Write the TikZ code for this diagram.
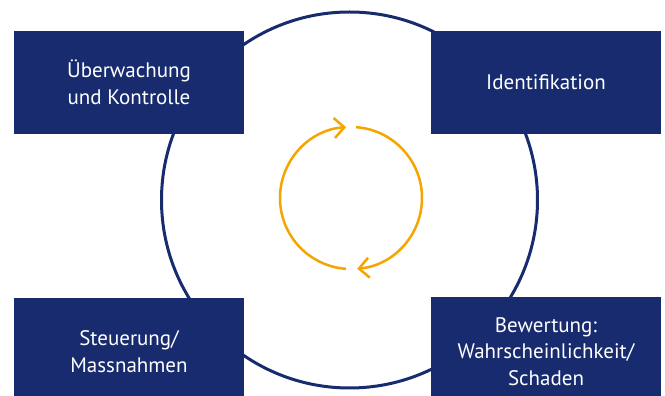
\documentclass[tikz,border=0pt]{standalone}
\usepackage{fontspec}
\setmainfont{PT Sans}
\usetikzlibrary{arrows.meta}
\definecolor{navy}{HTML}{172B6E}
\definecolor{amber}{HTML}{F5A500}
\begin{document}
\begin{tikzpicture}[x=1pt,y=1pt,
  box/.style={fill=navy,draw=none,text=white,align=center,font=\fontsize{21}{26.5}\selectfont},
  cyc/.style={draw=amber,line width=2.5pt,-{Straight Barb[length=10pt,width=20pt,line width=2.5pt]}}]
\useasboundingbox (0,0) rectangle (665,396);
\fill[white] (0,0) rectangle (665,396);
\node[draw=navy,line width=3pt,circle,minimum size=376pt,inner sep=0pt] (ring) at (349.5,196) {};
\path[box] (14,262) rectangle (244,365);
\path[box] (431,262) rectangle (661,365);
\path[box] (14,-5) rectangle (244,98);
\path[box] (431,-4) rectangle (661,99);
\node[box] (mon) at (129,313.5) {Überwachung\\und Kontrolle};
\node[box] (ident) at (546,313.5) {Identifikation};
\node[box] (steu) at (129,44.5) {Steuerung/\\Massnahmen};
\node[box] (bew) at (546,44.5) {Bewertung:\\Wahrscheinlichkeit/\\Schaden};
\coordinate (oc) at (351,198);
\draw[cyc] (oc) ++(266:71) arc[start angle=266,end angle=94,radius=71];
\draw[cyc] (oc) ++(86:71) arc[start angle=86,end angle=-85,radius=71];
\end{tikzpicture}
\end{document}
